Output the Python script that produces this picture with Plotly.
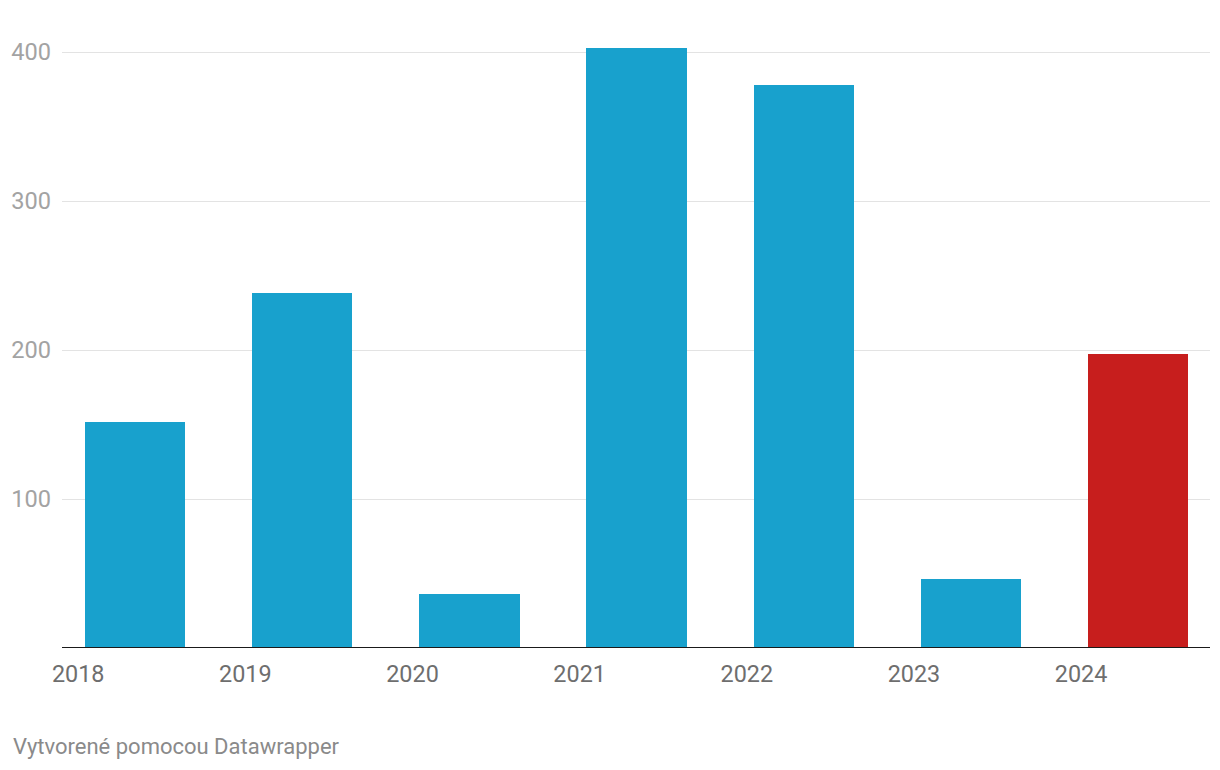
import plotly.graph_objects as go

years = ["2018", "2019", "2020", "2021", "2022", "2023", "2024"]
values = [152, 238, 36, 403, 378, 46, 197]
bar_colors = ["#18a1cd"] * 6 + ["#c71e1d"]
y_ticks = [100, 200, 300, 400]
footer = "Vytvorené pomocou Datawrapper"

# page body has an 8px margin; size the figure so it fits the 1220x770 window
OFF = 8
W, H = 1220 - OFF, 770 - OFF
L, R, T, B = 62 - OFF, 10, 30 - OFF, 122
plot_w = W - L - R
plot_h = H - T - B

x_pos = list(range(len(years)))
label_offset = 0.34

fig = go.Figure()
fig.add_trace(go.Bar(
    x=x_pos, y=values, marker=dict(color=bar_colors, line=dict(width=0)),
    width=0.6, hoverinfo="x+y", showlegend=False,
))

fig.update_layout(
    width=W, height=H,
    margin=dict(l=L, r=R, t=T, b=B),
    paper_bgcolor="white", plot_bgcolor="white",
    font=dict(family="Roboto", size=23, color="#a0a0a0"),
    xaxis=dict(
        range=[-0.437, 6.431],
        tickvals=[p - label_offset for p in x_pos],
        ticktext=years,
        showgrid=False, zeroline=False, showline=False,
        ticks="", tickfont=dict(size=23.4, color="#6e6e6e", family="Roboto"),
        ticklabelstandoff=10, automargin=False,
    ),
    yaxis=dict(
        range=[0, plot_h / 1.49],
        tickvals=y_ticks,
        showgrid=True, gridcolor="#e3e3e3", gridwidth=1.3,
        zeroline=False, showline=False, ticks="",
        tickfont=dict(size=23.6, color="#a3a3a3", family="Roboto"),
        ticklabelstandoff=10, automargin=False,
    ),
    bargap=0,
)

fig.add_shape(type="line", xref="paper", yref="y", x0=0, x1=1, y0=0, y1=0,
              line=dict(color="#1a1a1a", width=2))

fig.add_annotation(
    text=footer, xref="paper", yref="paper",
    x=(11 - 62) / plot_w, y=(648 - 746) / plot_h,
    xanchor="left", yanchor="middle", showarrow=False,
    font=dict(family="Roboto", size=22, color="#8a8a8a"),
)

fig.write_html("out.html")
